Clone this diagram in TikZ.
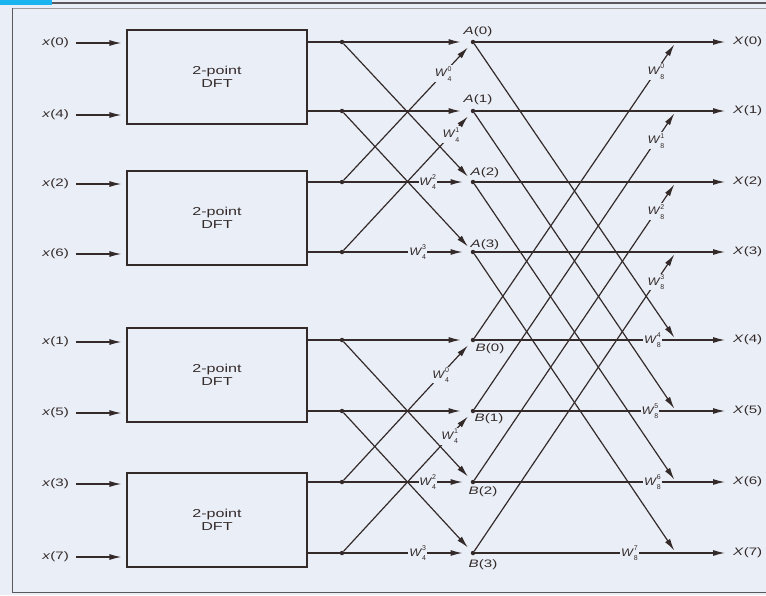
\documentclass[tikz,border=0pt]{standalone}
\usepackage{fontspec}
\setmainfont{Liberation Sans}
\usepackage{graphicx}
\usetikzlibrary{arrows.meta}
\definecolor{bg}{RGB}{234,239,247}
\definecolor{ink}{RGB}{52,42,42}
\definecolor{framec}{RGB}{90,88,92}
\newcommand\sx[1]{\scalebox{1.4}[1]{#1}}
\newcommand\tw[2]{\scalebox{1.15}[1]{\textit{W}}\kern-0.2pt\makebox[0pt][l]{\raisebox{1.0ex}{\fontsize{7}{7}\selectfont #2}}\raisebox{-0.75ex}{\fontsize{7}{7}\selectfont #1}}
\begin{document}
\begin{tikzpicture}[x=1pt,y=-1pt,
  line/.style={draw=ink,line width=1.2pt},
  arr/.style={line,-{Latex[length=12pt,width=6pt]}},
  dot/.style={circle,fill=ink,inner sep=0pt,minimum size=4.5pt},
  dftbox/.style={draw=ink,line width=1.2pt,fill=bg,minimum width=180pt,minimum height=94pt,align=center,font=\fontsize{11.5}{12.5}\selectfont,text=ink},
  lbl/.style={font=\fontsize{10.8}{12}\selectfont,inner sep=1pt,text=ink},
  wl/.style={fill=bg,inner sep=0.8pt,font=\fontsize{11}{11}\selectfont,text=ink}]
\useasboundingbox (0,0) rectangle (766,595);
\fill[bg] (0,0) rectangle (766,595);
% frame
\fill[cyan!90!white] (0,0) rectangle (52,4.5);
\draw[framec,line width=2.5pt] (52,3) -- (766,3);
\draw[framec!60,line width=0.8pt] (12,8) -- (766,8);
\draw[framec,line width=1pt] (12,8) -- (12,592) -- (766,592);

% boxes
\node[dftbox] (box1) at (217,77) {\sx{2-point}\\\sx{DFT}};
\node[dftbox] (box2) at (217,218) {\sx{2-point}\\\sx{DFT}};
\node[dftbox] (box3) at (217,375) {\sx{2-point}\\\sx{DFT}};
\node[dftbox] (box4) at (217,520) {\sx{2-point}\\\sx{DFT}};

% inputs
\node[lbl,anchor=east] (in0) at (70,43) {\sx{\textit{x}(0)}};
\node[lbl,anchor=east] (in1) at (70,115) {\sx{\textit{x}(4)}};
\node[lbl,anchor=east] (in2) at (70,184) {\sx{\textit{x}(2)}};
\node[lbl,anchor=east] (in3) at (70,254) {\sx{\textit{x}(6)}};
\node[lbl,anchor=east] (in4) at (70,342) {\sx{\textit{x}(1)}};
\node[lbl,anchor=east] (in5) at (70,413) {\sx{\textit{x}(5)}};
\node[lbl,anchor=east] (in6) at (70,484) {\sx{\textit{x}(3)}};
\node[lbl,anchor=east] (in7) at (70,557) {\sx{\textit{x}(7)}};
\foreach \i/\b in {0/box1,1/box1,2/box2,3/box2,4/box3,5/box3,6/box4,7/box4}{
  \draw[arr,shorten >=5pt] ([xshift=6pt]in\i.east) -- (\b.west |- in\i.east);
}

% nodes
\foreach \i/\r in {0/42,1/111,2/182,3/252,4/340,5/411,6/482,7/553}{
  \node[dot] (d\i) at (342,\r) {};
  \coordinate (o\i) at (676,\r);
  \node[lbl,anchor=west] (X\i) at (732,\r) {\sx{\textit{X}(\i)}};
}
\foreach \i/\r in {0/42,1/111,2/182,3/252}{ \node[dot] (a\i) at (473,\r) {}; }
\foreach \i/\r in {0/340,1/411,2/482,3/553}{ \node[dot] (b\i) at (473,\r) {}; }

\node[lbl] (la0) at (478,32) {\sx{\textit{A}(0)}};
\node[lbl] (la1) at (478,100) {\sx{\textit{A}(1)}};
\node[lbl] (la2) at (485,173) {\sx{\textit{A}(2)}};
\node[lbl] (la3) at (485,245) {\sx{\textit{A}(3)}};
\node[lbl] (lb0) at (490,349) {\sx{\textit{B}(0)}};
\node[lbl] (lb1) at (489,419) {\sx{\textit{B}(1)}};
\node[lbl] (lb2) at (483,492) {\sx{\textit{B}(2)}};
\node[lbl] (lb3) at (483,565) {\sx{\textit{B}(3)}};

% box outputs
\foreach \i/\b in {0/box1,1/box1,2/box2,3/box2,4/box3,5/box3,6/box4,7/box4}{
  \draw[line] (\b.east |- d\i) -- (d\i);
}

% stage 1 butterflies
\draw[arr,shorten >=10pt] (d0) -- (a0);
\draw[arr,shorten >=10pt] (d1) -- (a1);
\draw[arr,shorten >=5pt] (d0) -- (a2);
\draw[arr,shorten >=5pt] (d1) -- (a3);
\draw[arr,shorten >=5pt] (d2) -- node[wl,pos=0.78] {\tw40} (a0);
\draw[arr,shorten >=5pt] (d3) -- node[wl,pos=0.84] {\tw41} (a1);
\draw[arr,shorten >=8pt] (d2) -- node[wl,pos=0.66] {\tw42} (a2);
\draw[arr,shorten >=8pt] (d3) -- node[wl,pos=0.58] {\tw43} (a3);

\draw[arr,shorten >=10pt] (d4) -- (b0);
\draw[arr,shorten >=10pt] (d5) -- (b1);
\draw[arr,shorten >=5pt] (d4) -- (b2);
\draw[arr,shorten >=5pt] (d5) -- (b3);
\draw[arr,shorten >=5pt] (d6) -- node[wl,pos=0.76] {\tw40} (b0);
\draw[arr,shorten >=5pt] (d7) -- node[wl,pos=0.83] {\tw41} (b1);
\draw[arr,shorten >=8pt] (d6) -- node[wl,pos=0.66] {\tw42} (b2);
\draw[arr,shorten >=8pt] (d7) -- node[wl,pos=0.58] {\tw43} (b3);

% stage 2 butterflies
\foreach \k in {0,1,2,3}{
  \draw[arr,shorten >=7pt] (a\k) -- (X\k.west);
  \draw[arr,shorten >=3pt] (a\k) -- (o\the\numexpr\k+4\relax);
}
\draw[arr,shorten >=3pt] (b0) -- node[wl,pos=0.9] {\tw80} (o0);
\draw[arr,shorten >=3pt] (b1) -- node[wl,pos=0.9] {\tw81} (o1);
\draw[arr,shorten >=3pt] (b2) -- node[wl,pos=0.9] {\tw82} (o2);
\draw[arr,shorten >=3pt] (b3) -- node[wl,pos=0.9] {\tw83} (o3);
\draw[arr,shorten >=7pt] (b0) -- node[wl,pos=0.69] {\tw84} (X4.west);
\draw[arr,shorten >=7pt] (b1) -- node[wl,pos=0.68] {\tw85} (X5.west);
\draw[arr,shorten >=7pt] (b2) -- node[wl,pos=0.69] {\tw86} (X6.west);
\draw[arr,shorten >=7pt] (b3) -- node[wl,pos=0.60] {\tw87} (X7.west);
\end{tikzpicture}
\end{document}
